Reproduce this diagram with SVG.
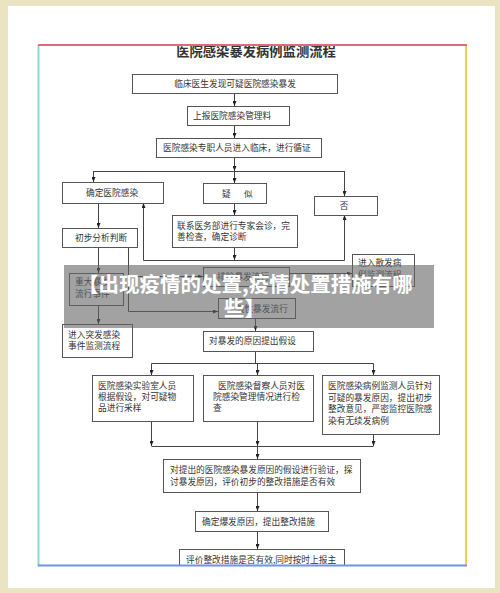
<svg xmlns="http://www.w3.org/2000/svg" width="500" height="593" viewBox="0 0 500 593">
<defs>
<style>
.box{fill:#fff;stroke:#555;stroke-width:1}
.t{font-family:"Noto Sans CJK SC","Noto Sans",sans-serif;font-size:8.7px;fill:#333}
.c{text-anchor:middle}
.ln{fill:none;stroke:#444;stroke-width:1}
.ar{fill:none;stroke:#444;stroke-width:1;marker-end:url(#ah)}
.ov{font-family:"Noto Sans CJK SC","Noto Sans",sans-serif;font-size:20.5px;font-weight:bold;fill:#fff}
</style>
<marker id="ah" markerWidth="5" markerHeight="4" refX="5" refY="2" orient="auto" markerUnits="userSpaceOnUse">
<path d="M0,0 L5,2 L0,4 z" fill="#222"/>
</marker>
<clipPath id="frame"><rect x="39" y="46" width="427" height="519"/></clipPath>
</defs>
<rect width="500" height="593" fill="#ebe4c3"/>
<rect x="8" y="6" width="487" height="582" fill="#fff"/>
<g clip-path="url(#frame)">
<text x="256" y="56" class="c" style="font-family:'Noto Sans CJK SC',sans-serif;font-size:13.3px;font-weight:bold;fill:#333">医院感染暴发病例监测流程</text>
<g id="connectors">
<line class="ar" x1="234.5" y1="93" x2="234.5" y2="106"/>
<line class="ar" x1="234.5" y1="125" x2="234.5" y2="138"/>
<line class="ar" x1="234.5" y1="157" x2="234.5" y2="171"/>
<line class="ln" x1="93.5" y1="171.5" x2="344.5" y2="171.5"/>
<line class="ar" x1="93.5" y1="171" x2="93.5" y2="182"/>
<line class="ar" x1="234.5" y1="171" x2="234.5" y2="183"/>
<line class="ar" x1="344.5" y1="171" x2="344.5" y2="196"/>
<line class="ar" x1="234.5" y1="203" x2="234.5" y2="215"/>
<line class="ar" x1="234.5" y1="247" x2="234.5" y2="260"/>
<line class="ln" x1="143.5" y1="260.5" x2="344.5" y2="260.5"/>
<line class="ar" x1="143.5" y1="260.5" x2="143.5" y2="203"/>
<line class="ar" x1="344.5" y1="260.5" x2="344.5" y2="215"/>
<line class="ar" x1="98.5" y1="203" x2="98.5" y2="228"/>
<line class="ar" x1="98.5" y1="247" x2="98.5" y2="273"/>
<line class="ar" x1="98.5" y1="305" x2="98.5" y2="324"/>
<polyline class="ar" points="128.5,247 128.5,311.5 218,311.5"/>
<line class="ar" x1="128.5" y1="276.5" x2="203" y2="276.5"/>
<line class="ar" x1="289" y1="273.5" x2="352" y2="273.5"/>
<line class="ar" x1="255.5" y1="318" x2="255.5" y2="331"/>
<line class="ln" x1="255.5" y1="351" x2="255.5" y2="363.5"/>
<line class="ln" x1="151.5" y1="363.5" x2="373.5" y2="363.5"/>
<line class="ar" x1="151.5" y1="363.5" x2="151.5" y2="375"/>
<line class="ar" x1="257.5" y1="363.5" x2="257.5" y2="375"/>
<line class="ar" x1="373.5" y1="363.5" x2="373.5" y2="375"/>
<line class="ar" x1="151.5" y1="421" x2="151.5" y2="446"/>
<line class="ar" x1="257.5" y1="421" x2="257.5" y2="446"/>
<line class="ar" x1="373.5" y1="434" x2="373.5" y2="446"/>
<line class="ln" x1="151.5" y1="446.5" x2="373.5" y2="446.5"/>
<line class="ar" x1="257.5" y1="446.5" x2="257.5" y2="459"/>
<line class="ar" x1="257.5" y1="492" x2="257.5" y2="511"/>
<line class="ar" x1="257.5" y1="531" x2="257.5" y2="549"/>
</g>
<g id="n1"><rect class="box" x="132.5" y="74.5" width="205" height="19"/><text class="t c" x="235" y="87">临床医生发现可疑医院感染暴发</text></g>
<g id="n2"><rect class="box" x="187.5" y="106.5" width="102" height="19"/><text class="t" x="193" y="119">上报医院感染管理料</text></g>
<g id="n3"><rect class="box" x="156.5" y="138.5" width="165" height="19"/><text class="t" x="163" y="151">医院感染专职人员进入临床，进行循证</text></g>
<g id="n4"><rect class="box" x="62.5" y="182.5" width="101" height="21"/><text class="t c" x="112" y="196">确定医院感染</text></g>
<g id="n5"><rect class="box" x="203.5" y="183.5" width="63" height="20"/><text class="t" x="222" y="196.5">疑<tspan x="244">似</tspan></text></g>
<g id="n6"><rect class="box" x="314.5" y="196.5" width="63" height="19"/><text class="t c" x="344" y="209">否</text></g>
<g id="n7"><rect class="box" x="172.5" y="215.5" width="125" height="32"/><text class="t" x="177" y="228.5">联系医务部进行专家会诊，完</text><text class="t" x="177" y="240">善检查，确定诊断</text></g>
<g id="n8"><rect class="box" x="62.5" y="228.5" width="75" height="19"/><text class="t c" x="101" y="241">初步分析判断</text></g>
<g id="n9"><rect class="box" x="69.5" y="273.5" width="54" height="32"/><text class="t" x="75" y="285">重大暴发</text><text class="t" x="75" y="297">流行事件</text></g>
<g id="n10"><rect class="box" x="352.5" y="254.5" width="62" height="32"/><text class="t" x="358" y="266">进入散发病</text><text class="t" x="358" y="278">例监测流程</text></g>
<g id="n11"><rect class="box" x="203.5" y="267.5" width="86" height="19"/><text class="t" x="217" y="280">排除暴发流行</text></g>
<g id="n12"><rect class="box" x="218.5" y="298.5" width="77" height="20"/><text class="t" x="227" y="311.5">一般性暴发流行</text></g>
<g id="n13"><rect class="box" x="62.5" y="324.5" width="70" height="33"/><text class="t" x="68" y="337.5">进入突发感染</text><text class="t" x="68" y="349">事件监测流程</text></g>
<g id="n14"><rect class="box" x="203.5" y="331.5" width="110" height="20"/><text class="t" x="209" y="344">对暴发的原因提出假设</text></g>
<g id="n15"><rect class="box" x="92.5" y="375.5" width="101" height="46"/><text class="t" x="98" y="389">医院感染实验室人员</text><text class="t" x="98" y="400">根据假设，对可疑物</text><text class="t" x="98" y="411">品进行采样</text></g>
<g id="n16"><rect class="box" x="203.5" y="375.5" width="110" height="46"/><text class="t" x="218" y="389">医院感染督察人员对医</text><text class="t" x="213" y="400">院感染管理情况进行检</text><text class="t" x="213" y="411">查</text></g>
<g id="n17"><rect class="box" x="322.5" y="375.5" width="117" height="59"/><text class="t" x="328" y="389">医院感染病例监测人员针对</text><text class="t" x="328" y="400.5">可疑的暴发原因，提出初步</text><text class="t" x="328" y="412">整改意见，严密监控医院感</text><text class="t" x="328" y="423.5">染有无续发病例</text></g>
<g id="n18"><rect class="box" x="163.5" y="459.5" width="197" height="33"/><text class="t" x="170" y="473">对提出的医院感染暴发原因的假设进行验证，探</text><text class="t" x="170" y="485">讨暴发原因，评价初步的整改措施是否有效</text></g>
<g id="n19"><rect class="box" x="195.5" y="511.5" width="133" height="20"/><text class="t" x="202" y="524.5">确定爆发原因，提出整改措施</text></g>
<g id="n20"><rect class="box" x="179.5" y="549.5" width="165" height="30"/><text class="t" x="186" y="563">评价整改措施是否有效,同时按时上报主</text></g>
</g>
<g id="frame-lines">
<line x1="38.5" y1="45" x2="38.5" y2="566" stroke="#8fd3d3" stroke-width="2"/>
<line x1="466" y1="45" x2="466" y2="566" stroke="#f7c94f" stroke-width="2"/>
<line x1="38" y1="45" x2="467" y2="45" stroke="#e4677a" stroke-width="2"/>
<line x1="38" y1="565.5" x2="467" y2="565.5" stroke="#7193e3" stroke-width="2"/>
</g>
<g id="banner">
<rect x="64" y="265" width="370" height="63" fill="#646464" opacity="0.6"/>
<text class="ov" x="78" y="292">【出现疫情的处置,疫情处置措施有哪</text>
<text class="ov" x="224" y="316">些】</text>
</g>
</svg>
